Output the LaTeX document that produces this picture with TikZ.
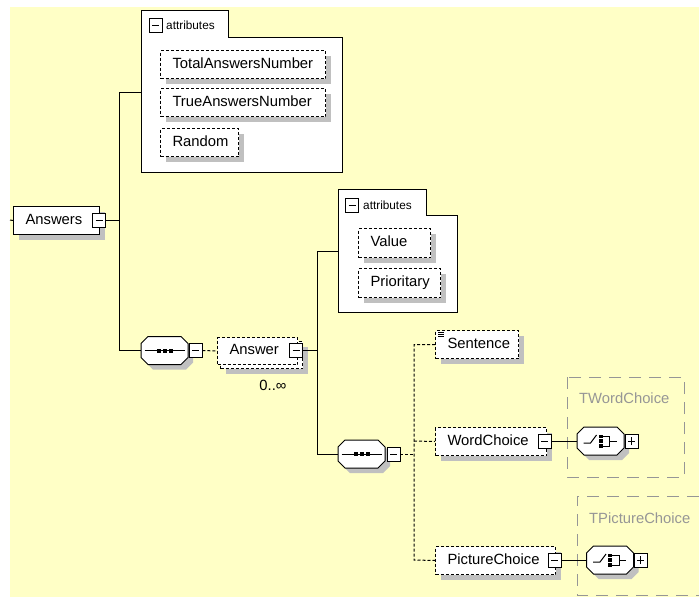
\documentclass[tikz,border=0pt]{standalone}
\usepackage{fontspec}
\setmainfont{Liberation Sans}
\usetikzlibrary{shadows}
\definecolor{bgyellow}{RGB}{255,255,198}
\definecolor{shadowgray}{RGB}{192,192,192}
\definecolor{typegray}{RGB}{150,150,150}
\newcommand\elfont{\fontsize{14.8}{17}\selectfont}
\newcommand\attfont{\fontsize{11.8}{13}\selectfont}
\newcommand\octdraw[1]{%
 \begin{scope}[shift={(#1.center)}]
  \fill[shadowgray, shift={(5,5)}] (-23.5,-7) -- (-16.5,-14) -- (16.5,-14) -- (23.5,-7) -- (23.5,7) -- (16.5,14) -- (-16.5,14) -- (-23.5,7) -- cycle;
  \draw[line width=1pt, fill=white] (-23.5,-7) -- (-16.5,-14) -- (16.5,-14) -- (23.5,-7) -- (23.5,7) -- (16.5,14) -- (-16.5,14) -- (-23.5,7) -- cycle;
 \end{scope}}
\begin{document}
\begin{tikzpicture}[x=1pt,y=-1pt,
 shad/.style={general shadow={fill=shadowgray, shadow xshift=5pt, shadow yshift=-5pt}},
 elbase/.style={draw=black, fill=white, line width=1pt, anchor=north west, inner xsep=12pt, inner ysep=0pt, align=left, text height=10.5pt, text depth=3pt, font=\elfont},
 elbox/.style={elbase, shad},
 optl/.style={dash pattern=on 3pt off 2pt},
 optbox/.style={elbox, optl},
 conn/.style={line width=1pt, draw=black},
 optconn/.style={conn, optl},
 pmbox/.style={draw=black, fill=white, line width=0.9pt, minimum width=13pt, minimum height=14pt, inner sep=0pt},
 minusbox/.style={pmbox, path picture={\draw[line width=0.9pt] ([xshift=3pt]path picture bounding box.west) -- ([xshift=-3pt]path picture bounding box.east);}},
 plusbox/.style={pmbox, path picture={\draw[line width=0.9pt] ([xshift=3pt]path picture bounding box.west) -- ([xshift=-3pt]path picture bounding box.east); \draw[line width=0.9pt] ([yshift=3pt]path picture bounding box.south) -- ([yshift=-3pt]path picture bounding box.north);}},
 octo/.style={rectangle, minimum width=47pt, minimum height=28pt, inner sep=0pt},
 attbox/.style={draw=black, fill=white, line width=1pt},
 typebox/.style={draw=typegray, line width=1pt, dash pattern=on 12pt off 8pt},
 typelabel/.style={text=typegray, font=\elfont, anchor=west, inner sep=0pt},
 attlabel/.style={font=\attfont, anchor=west, inner sep=0pt},
]
\useasboundingbox (0,0) rectangle (699,597);
\fill[bgyellow] (10,7) rectangle (699,597);

% ---------- attributes of Answers
\draw[attbox] (141,10) -| (228,37) -| (342,172) -- (141,172) -- cycle;
\node[minusbox] (am1) at (155.5,25) {};
\node[attlabel] (al1) at (166,25) {attributes};
\node[optbox, text width=141pt, minimum height=28pt] (tan) at (160,50) {TotalAnswersNumber};
\node[optbox, text width=141pt, minimum height=28pt] (trn) at (160,88) {TrueAnswersNumber};
\node[optbox, text width=54pt, minimum height=28pt] (rnd) at (160,128) {Random};
\coordinate (a1in) at (141,92);

% ---------- Answers
\coordinate (lstub) at (10,220);
\node[elbox, text width=62pt, minimum height=28pt] (answers) at (13,206) {Answers};
\node[minusbox] (answersm) at (99,220) {};
\draw[conn] (lstub) -- (answers.west);
\coordinate (j1) at (119,220);

% ---------- sequence 1
\node[octo] (seq1) at (164.5,350.5) {};
\octdraw{seq1}
\begin{scope}[shift={(seq1.center)}]
 \draw[line width=1pt] (-20,0) -- (20,0);
 \fill (-8,-2) rectangle (-4,2);
 \fill (-2,-2) rectangle (2,2);
 \fill (4,-2) rectangle (8,2);
\end{scope}
\node[minusbox] (seq1m) at (195.5,350.5) {};
\draw[conn] (answersm.east) -- (j1) |- (a1in);
\draw[conn] (j1) |- (seq1.west);

% ---------- Answer (multiple)
\node[optbox, minimum width=82pt, minimum height=27pt, inner sep=0pt] (ansback) at (220,341) {};
\node[elbase, optl, text width=56pt, minimum height=27pt] (answer) at (217,337) {Answer};
\node[minusbox] (answerm) at (296,350.5) {};
\draw[optconn] (seq1m.east) -- (answer.west);
\node[font=\elfont, inner sep=0pt] (occ) at (273,385) {0..∞};

% ---------- attributes of Answer
\coordinate (j2) at (317,350.5);
\coordinate (a2in) at (338,251);
\draw[attbox] (338,189) -| (426,215) -| (457,312) -- (338,312) -- cycle;
\node[minusbox] (am2) at (352,205) {};
\node[attlabel] (al2) at (363,205) {attributes};
\node[optbox, text width=48pt, minimum height=29pt] (val) at (358,228) {Value};
\node[optbox, text width=58pt, minimum height=29pt] (pri) at (358,268) {Prioritary};

% ---------- sequence 2
\node[octo] (seq2) at (361.5,454) {};
\octdraw{seq2}
\begin{scope}[shift={(seq2.center)}]
 \draw[line width=1pt] (-20,0) -- (20,0);
 \fill (-8,-2) rectangle (-4,2);
 \fill (-2,-2) rectangle (2,2);
 \fill (4,-2) rectangle (8,2);
\end{scope}
\node[minusbox] (seq2m) at (393.5,454) {};
\draw[conn] (answerm.east) -- (j2) |- (a2in);
\draw[conn] (j2) |- (seq2.west);

% ---------- type boxes
\draw[typebox] (567,377) rectangle (684,477);
\draw[typebox] (699,496) -- (577,496) -- (577,595) -- (699,595);
\node[typelabel] (twc) at (579,398) {TWordChoice};
\node[typelabel] (tpc) at (589,518) {TPictureChoice};

% ---------- children
\node[optbox, text width=59pt, minimum height=28pt] (sent) at (435,330) {Sentence};
\draw[line width=0.8pt] (438,332) -- (444,332) (438,334) -- (444,334) (438,336) -- (444,336);
\node[optbox, text width=87pt, minimum height=28pt] (wc) at (435,427) {WordChoice};
\node[minusbox] (wcm) at (544.5,441) {};
\node[optbox, text width=96pt, minimum height=28pt] (pc) at (435,546) {PictureChoice};
\node[minusbox] (pcm) at (554.5,560) {};

\coordinate (j3) at (414,454);
\coordinate (jbot) at (414,560);
\coordinate (jwc) at (414,441);
\draw[optconn] (sent.west) -| (jbot) -- (pc.west);
\draw[optconn] (jwc) -- (wc.west);
\draw[optconn] (seq2m.east) -- (j3);

% ---------- choices
\node[octo] (ch1) at (600.5,441) {};
\node[octo] (ch2) at (610,560) {};
\octdraw{ch1}
\octdraw{ch2}
\node[plusbox] (ch1p) at (631.5,441) {};
\node[plusbox] (ch2p) at (640.5,560) {};
\foreach \c in {ch1,ch2}{
\begin{scope}[shift={(\c.center)}]
 \draw[line width=1pt] (-17,2) -- (-10,2) -- (-4,-6);
 \fill (-2,-6.5) rectangle (2,-3);
 \fill (-2,-1.8) rectangle (2,1.8);
 \fill (-2,3) rectangle (2,6.5);
 \draw[line width=1pt] (2,-4.5) -- (9,-4.5) -- (9,5) -- (2,5);
 \draw[line width=1pt] (9,0) -- (16,0);
\end{scope}}
\draw[conn] (wcm.east) -- (ch1.west);
\draw[conn] (pcm.east) -- (ch2.west);
\end{tikzpicture}
\end{document}
